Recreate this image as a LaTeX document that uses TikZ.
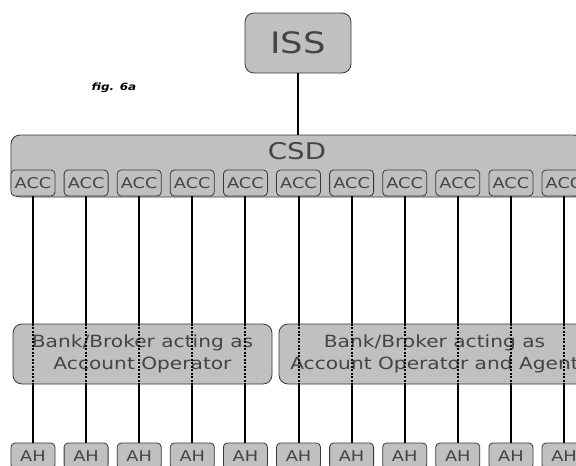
\documentclass[tikz,border=0pt]{standalone}
\usepackage{fontspec}
\setmainfont[FakeStretch=1.2]{DejaVu Sans}
\usepackage{xcolor}
\definecolor{boxfill}{HTML}{C0C0C0}
\definecolor{border}{HTML}{383838}
\definecolor{label}{HTML}{444444}
\tikzset{
  box/.style={draw=border, fill=boxfill, text=label, line width=0.8pt,
    rounded corners=9pt, inner sep=0pt, align=center},
  accbox/.style={box, rounded corners=4pt, minimum width=44pt,
    minimum height=26pt, font=\fontsize{14.8}{16}\selectfont},
  bankbox/.style={box, minimum height=60pt, font=\fontsize{16.8}{22}\selectfont},
  link/.style={line width=2pt, black},
  hidden/.style={line width=2pt, black, dash pattern=on 2pt off 1.5pt},
}

\begin{document}
\begin{tikzpicture}[x=1pt, y=-1pt]
  \useasboundingbox (0,0) rectangle (576,466);
  \clip (0,0) rectangle (576,466);
  % issuer and depository
  \node[box, minimum width=106pt, minimum height=60pt,
    font=\fontsize{29.5}{30}\selectfont] (iss) at (298,43) {ISS};
  \node[font=\fontsize{10}{12}\selectfont\bfseries\itshape] (fig) at (114,88) {fig. 6a};
  \node[box, minimum width=572pt, minimum height=62pt] (csd) at (297,166) {};
  \node[text=label, font=\fontsize{23}{23}\selectfont] (csdname) at (297,151) {CSD};
  \draw[link] (iss.south) -- (iss.south |- csd.north);
  % accounts and holders
  \foreach \i in {1,...,11} {
    \node[accbox] (acc\i) at ({33+53.1*(\i-1)},183) {ACC};
    \node[accbox] (ah\i) at ({33+53.1*(\i-1)},456) {AH};
    \draw[link] (acc\i.south) -- (ah\i.north);
  }
  % intermediaries
  \node[bankbox, minimum width=259pt] (bank1) at (142.5,354)
    {Bank/Broker acting as\\Account Operator};
  \node[bankbox, minimum width=311pt] (bank2) at (434.5,354)
    {Bank/Broker acting as\\Account Operator and Agent};
  \foreach \i in {1,...,5}
    \draw[hidden] (acc\i.south |- bank1.north) -- (acc\i.south |- bank1.south);
  \foreach \i in {6,...,11}
    \draw[hidden] (acc\i.south |- bank2.north) -- (acc\i.south |- bank2.south);
\end{tikzpicture}
\end{document}
